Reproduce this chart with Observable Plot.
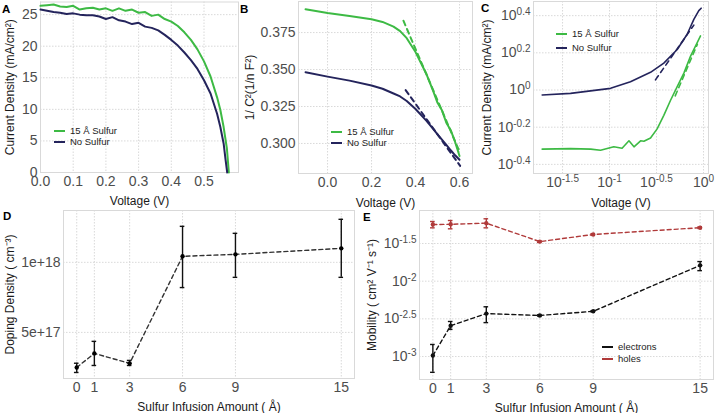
<!DOCTYPE html>
<html><head><meta charset="utf-8">
<script src="https://cdn.jsdelivr.net/npm/d3@7"></script>
<script src="https://cdn.jsdelivr.net/npm/@observablehq/plot@0.6"></script>
<style>
body{margin:0;background:#fff;}
#wrap{position:relative;width:717px;height:413px;overflow:hidden;background:#fff;font-family:"Liberation Sans",Arial,sans-serif;}
#wrap svg{position:absolute;overflow:visible;}
#wrap [aria-label$="axis label"]{font-size:12px;fill:#1a1a1a;}
.lab{position:absolute;font-weight:bold;font-size:11.5px;line-height:1;color:#000;}
.lgl{position:absolute;height:0;width:11px;}
.lgt{position:absolute;font-size:9.5px;line-height:1;color:#222;transform:translateY(-50%);white-space:nowrap;}
</style></head>
<body><div id="wrap"></div>
<script>
// ---------- Data ----------
// A: J-V curves
const jvV15 = [0,0.02,0.04,0.06,0.08,0.10,0.12,0.14,0.16,0.18,0.20,0.22,0.24,0.26,0.28,0.30,0.32,0.34,0.36,0.38,0.40,0.42,0.44,0.46,0.48,0.50,0.52,0.54,0.55,0.56,0.57,0.576];
const jvJ15 = [26.4,26.5,26.6,26.3,26.2,26.4,25.8,26.0,26.1,25.8,26.0,25.6,26.0,25.6,25.8,25.3,25.4,24.8,25.0,24.3,23.9,23.2,22.2,21.0,19.5,17.6,15.2,11.9,9.9,7.2,3.8,0];
const jvV0 = [0,0.02,0.04,0.06,0.08,0.10,0.12,0.14,0.16,0.18,0.20,0.22,0.24,0.26,0.28,0.30,0.32,0.34,0.36,0.38,0.40,0.42,0.44,0.46,0.48,0.50,0.52,0.54,0.55,0.56,0.566,0.571];
const jvJ0 = [25.8,25.6,25.4,25.3,25.1,25.2,25.0,24.9,24.9,24.7,24.3,24.6,24.1,23.9,23.5,23.7,23.1,22.9,22.5,21.8,21.0,20.1,19.0,17.8,16.4,14.6,12.5,9.3,7.2,4.6,2.0,0];
// B: 1/C^2 vs V
const cvV = [-0.1,0,0.1,0.2,0.25,0.3,0.33,0.36,0.4,0.45,0.48,0.5,0.52,0.54,0.56,0.58,0.6];
const cv15 = [0.3907,0.3882,0.3862,0.3840,0.3822,0.3790,0.3760,0.3712,0.3618,0.3468,0.3355,0.3275,0.3225,0.3140,0.3090,0.3010,0.2915];
const cv0 = [0.3482,0.3452,0.3425,0.3392,0.3370,0.3338,0.3318,0.3287,0.3233,0.3153,0.3098,0.3062,0.3026,0.2990,0.2954,0.2920,0.2890];
const cvFitV15 = [0.345,0.6], cvFit15 = [0.383,0.2945];
const cvFitV0 = [0.355,0.603], cvFit0 = [0.3361,0.2848];
// C: log-log J-V
const lgV = [0.0192,0.0385,0.1026,0.167,0.273,0.378,0.525,0.670,0.789,0.891,0.944];
const lgJ0 = [0.940,0.959,1.021,1.109,1.245,1.396,1.652,1.995,2.399,2.673,2.754];
const lgV15 = [0.0192,0.0385,0.0631,0.0802,0.111,0.136,0.161,0.182,0.214,0.232,0.273,0.321,0.378,0.446,0.525,0.618,0.728,0.857,0.929];
const lgJ15 = [0.481,0.484,0.481,0.474,0.495,0.486,0.533,0.495,0.533,0.530,0.552,0.618,0.731,0.881,1.042,1.233,1.521,1.799,1.954];
const lgFitV0 = [0.308,0.789], lgFit0 = [1.134,2.234];
const lgFitV15 = [0.50,0.86], lgFit15 = [0.93,1.76];
// D: doping density
const sulfur = [0,1,3,6,9,15];
const doping = [2.5e17,3.5e17,2.79e17,1.043e18,1.057e18,1.1e18];
const dopingLo = [2.14e17,2.64e17,2.64e17,8.2e17,8.93e17,8.93e17];
const dopingHi = [2.8e17,4.36e17,3.0e17,1.257e18,1.207e18,1.307e18];
// E: mobility
const holes = [0.05649,0.05689,0.05888,0.03350,0.04169,0.05129];
const holesLo = [0.05105,0.04955,0.05105,0.0327,0.0407,0.0501];
const holesHi = [0.06194,0.06383,0.06730,0.0343,0.0427,0.0525];
const electrons = [0.00103,0.00257,0.003715,0.003508,0.003981,0.01622];
const electronsLo = [0.000617,0.002291,0.002818,0.00344,0.00391,0.01380];
const electronsHi = [0.001445,0.002917,0.004571,0.00358,0.00406,0.01820];
// tick labels
const ticksA_x = [0,0.1,0.2,0.3,0.4,0.5], ticksA_y = [0,5,10,15,20,25];
const ticksB_x = [0,0.2,0.4,0.6], ticksB_y = [0.300,0.325,0.350,0.375];
const ticksC_x = [10**-1.5,10**-1,10**-0.5,1], ticksC_y = [10**-0.4,10**-0.2,1,10**0.2,10**0.4];
const ticksD_y = [5e17,1e18];
const ticksE_y = [10**-3,10**-2.5,10**-2,10**-1.5];

// ---------- Styles ----------
const GREEN = "#3dba44", NAVY = "#24245c", RED = "#b03a3a";
const base = {fontFamily:'"Liberation Sans",Arial,sans-serif', fontSize:"14px", color:"#4d4d4d", background:"transparent", overflow:"visible"};
const gridS = {stroke:"#cfcfcf", strokeOpacity:1, strokeWidth:0.8, strokeDasharray:"1.5,1.5"};
const frameS = {stroke:"#d9d9d9", strokeWidth:1};
const ax = {tickSize:0, tickPadding:4, labelAnchor:"center", labelArrow:"none"};
const ay = {tickSize:0, tickPadding:3, labelAnchor:"center", labelArrow:"none"};
const supFmt = d => "10^" + String(Number(Math.log10(d).toFixed(1)));

const zip = (xs, ys, extra={}) => xs.map((x,i)=>({x, y:ys[i], ...Object.fromEntries(Object.entries(extra).map(([k,a])=>[k,a[i]]))}));

const wrap = document.getElementById("wrap");
function place(svg, left, top){ svg.style.left = left+"px"; svg.style.top = top+"px"; wrap.appendChild(svg); }
function sup(svg){
  svg.querySelectorAll("text").forEach(t=>{
    const m = /^10\^(.+)$/.exec(t.textContent); if(!m) return;
    t.textContent = "10";
    const ts = document.createElementNS("http://www.w3.org/2000/svg","tspan");
    ts.setAttribute("dy","-0.5em"); ts.setAttribute("font-size","10px"); ts.textContent = m[1];
    t.appendChild(ts);
  });
}

// ---------- Panel A ----------
const A = Plot.plot({
  width:240, height:200, marginLeft:40, marginRight:2, marginTop:1.5, marginBottom:28, style:base,
  x:{domain:[0,0.6055]}, y:{domain:[0,27]},
  marks:[
    Plot.gridX(ticksA_x, gridS), Plot.gridY(ticksA_y, gridS), Plot.frame(frameS),
    Plot.line(zip(jvV15,jvJ15), {x:"x", y:"y", stroke:GREEN, strokeWidth:2}),
    Plot.line(zip(jvV0,jvJ0), {x:"x", y:"y", stroke:NAVY, strokeWidth:2}),
    Plot.axisX({...ax, ticks:ticksA_x, tickFormat:d3.format(".1f"), label:"Voltage (V)", labelOffset:32}),
    Plot.axisY({...ay, ticks:ticksA_y, tickFormat:d3.format("d"), label:"Current Density (mA/cm²)", labelOffset:35})
  ]
});
place(A, 0, 0);

// ---------- Panel B ----------
const B = Plot.plot({
  width:235, height:200, marginLeft:58, marginRight:3, marginTop:1, marginBottom:27, style:base,
  x:{domain:[-0.132,0.659]}, y:{domain:[0.2797,0.396]},
  marks:[
    Plot.gridX(ticksB_x, gridS), Plot.gridY(ticksB_y, gridS), Plot.frame(frameS),
    Plot.line(zip(cvV,cv15), {x:"x", y:"y", stroke:GREEN, strokeWidth:2}),
    Plot.line(zip(cvV,cv0), {x:"x", y:"y", stroke:NAVY, strokeWidth:2}),
    Plot.line(zip(cvFitV15,cvFit15), {x:"x", y:"y", stroke:GREEN, strokeWidth:2, strokeDasharray:"5,4"}),
    Plot.line(zip(cvFitV0,cvFit0), {x:"x", y:"y", stroke:NAVY, strokeWidth:2, strokeDasharray:"5,4"}),
    Plot.axisX({...ax, ticks:ticksB_x, tickFormat:d3.format(".1f"), label:"Voltage (V)", labelOffset:33}),
    Plot.axisY({...ay, ticks:ticksB_y, tickFormat:d3.format(".3f"), label:"1/ C²(1/n F²)", labelOffset:53})
  ]
});
place(B, 240, 0);

// ---------- Panel C ----------
const C = Plot.plot({
  width:242, height:200, marginLeft:58, marginRight:9, marginTop:1, marginBottom:27, style:base,
  x:{type:"log", domain:[10**-1.809, 10**0.053]}, y:{type:"log", domain:[10**-0.449, 10**0.476]},
  marks:[
    Plot.gridX(ticksC_x, gridS), Plot.gridY(ticksC_y, gridS), Plot.frame(frameS),
    Plot.line(zip(lgV15,lgJ15), {x:"x", y:"y", stroke:GREEN, strokeWidth:1.6}),
    Plot.line(zip(lgV,lgJ0), {x:"x", y:"y", stroke:NAVY, strokeWidth:1.6}),
    Plot.line(zip(lgFitV15,lgFit15), {x:"x", y:"y", stroke:GREEN, strokeWidth:1.6, strokeDasharray:"5,4"}),
    Plot.line(zip(lgFitV0,lgFit0), {x:"x", y:"y", stroke:NAVY, strokeWidth:1.6, strokeDasharray:"5,4"}),
    Plot.axisX({...ax, ticks:ticksC_x, tickFormat:supFmt, label:"Voltage (V)", labelOffset:33}),
    Plot.axisY({...ay, ticks:ticksC_y, tickFormat:supFmt, label:"Current Density (mA/cm²)", labelOffset:51})
  ]
});
sup(C); place(C, 475, 0);

// ---------- Panel D ----------
const dopT = zip(sulfur, doping, {lo:dopingLo, hi:dopingHi});
const D = Plot.plot({
  width:360, height:213, marginLeft:63, marginRight:6, marginTop:10, marginBottom:35, style:base,
  x:{domain:[-0.75,15.75]}, y:{domain:[1.71e17,1.37e18]},
  marks:[
    Plot.gridX(sulfur, gridS), Plot.gridY(ticksD_y, gridS), Plot.frame(frameS),
    Plot.line(dopT, {x:"x", y:"y", stroke:"#333", strokeWidth:1.4, strokeDasharray:"4,3"}),
    Plot.ruleX(dopT, {x:"x", y1:"lo", y2:"hi", stroke:"#111", strokeWidth:1.4}),
    Plot.ruleY(dopT, {y:"lo", x1:d=>d.x-0.13, x2:d=>d.x+0.13, stroke:"#111", strokeWidth:1.4}),
    Plot.ruleY(dopT, {y:"hi", x1:d=>d.x-0.13, x2:d=>d.x+0.13, stroke:"#111", strokeWidth:1.4}),
    Plot.dot(dopT, {x:"x", y:"y", r:2.2, fill:"#000"}),
    Plot.axisX({...ax, ticks:sulfur, tickFormat:d3.format("d"), label:"Sulfur Infusion Amount ( Å)", labelOffset:32}),
    Plot.axisY({...ay, ticks:ticksD_y, tickFormat:d=>d.toExponential(), label:"Doping Density ( cm⁻³)", labelOffset:58})
  ]
});
place(D, 0, 200);

// ---------- Panel E ----------
const holT = zip(sulfur, holes, {lo:holesLo, hi:holesHi});
const eleT = zip(sulfur, electrons, {lo:electronsLo, hi:electronsHi});
const errMarks = (T, col) => [
  Plot.line(T, {x:"x", y:"y", stroke:col, strokeWidth:1.4, strokeDasharray:"4,3"}),
  Plot.ruleX(T, {x:"x", y1:"lo", y2:"hi", stroke:col, strokeWidth:1.4}),
  Plot.ruleY(T, {y:"lo", x1:d=>d.x-0.13, x2:d=>d.x+0.13, stroke:col, strokeWidth:1.4}),
  Plot.ruleY(T, {y:"hi", x1:d=>d.x-0.13, x2:d=>d.x+0.13, stroke:col, strokeWidth:1.4}),
  Plot.dot(T, {x:"x", y:"y", r:2.2, fill:col})
];
const E = Plot.plot({
  width:357, height:213, marginLeft:59, marginRight:4, marginTop:10, marginBottom:34, style:base,
  x:{domain:[-0.75,15.75]}, y:{type:"log", domain:[10**-3.305, 10**-1.062]},
  marks:[
    Plot.gridX(sulfur, gridS), Plot.gridY(ticksE_y, gridS), Plot.frame(frameS),
    ...errMarks(holT, RED), ...errMarks(eleT, "#111"),
    Plot.axisX({...ax, ticks:sulfur, tickFormat:d3.format("d"), label:"Sulfur Infusion Amount ( Å)", labelOffset:32}),
    Plot.axisY({...ay, ticks:ticksE_y, tickFormat:supFmt, label:"Mobility ( cm² V⁻¹ s⁻¹)", labelOffset:52})
  ]
});
sup(E); place(E, 360, 200);

// ---------- Panel letters & legends ----------
function html(cls, left, top, text, css={}){
  const d = document.createElement("div"); d.className = cls;
  d.style.left = left+"px"; d.style.top = top+"px";
  if (text != null) d.textContent = text;
  Object.assign(d.style, css); wrap.appendChild(d); return d;
}
[["A",2,4],["B",240,4],["C",481,3],["D",3,211],["E",363,212]].forEach(([t,x,y])=>html("lab",x,y,t));
const seriesNames = ["15 Å Sulfur","No Sulfur"], seriesCols = [GREEN, NAVY];
function legend(x, y, gap, names, cols, dashed){
  names.forEach((n,i)=>{
    html("lgl", x, y+i*gap-1, null, {borderTop:`2px ${dashed?"dashed":"solid"} ${cols[i]}`});
    html("lgt", x+16, y+i*gap, n);
  });
}
legend(54, 131, 11, seriesNames, seriesCols, false);
legend(331, 132, 11, seriesNames, seriesCols, false);
legend(556, 34, 14, seriesNames, seriesCols, false);
legend(602, 347, 12, ["electrons","holes"], ["#111", RED], true);
</script></body></html>
